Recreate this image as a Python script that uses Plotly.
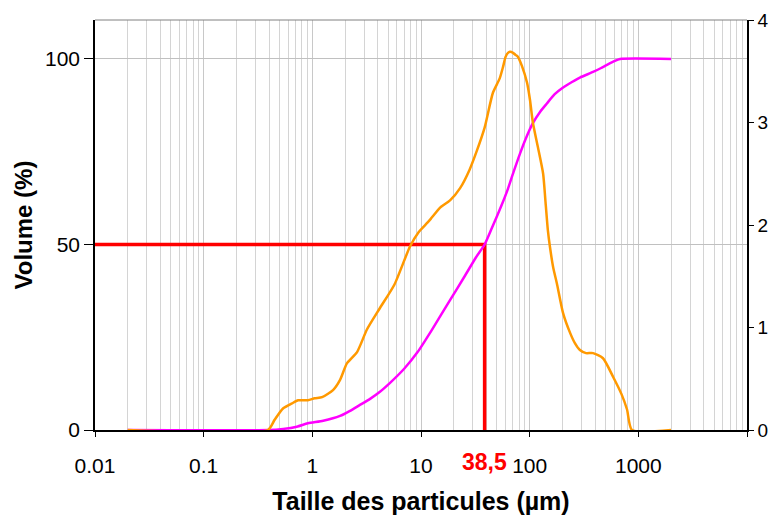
import numpy as np
import plotly.graph_objects as go

# Particle size distribution (frequency, right axis, %)
freq_size = [0.02, 0.39, 0.45, 0.537, 0.65, 0.74, 0.91, 1.05, 1.23, 1.55, 1.8, 2.08, 2.58, 3.18,
             4.19, 5.7, 7.92, 9.5, 11.4, 12.3, 15, 18.5, 22.9, 28, 32.8, 38.5, 45.9, 53,
             56.8, 60, 63.1, 66, 70.3, 74, 78.1, 85, 94.5, 100.7, 107, 119, 133, 140, 147,
             154, 165, 178, 203, 235, 260, 290, 330, 383, 473, 585, 700, 787, 874, 2000]
freq_vol = [0, 0, 0.1, 0.21, 0.26, 0.29, 0.29, 0.31, 0.32, 0.39, 0.49, 0.65, 0.76, 0.98,
            1.19, 1.42, 1.79, 1.93, 2.02, 2.06, 2.17, 2.24, 2.36, 2.54, 2.73, 2.95, 3.29, 3.43,
            3.54, 3.64, 3.68, 3.69, 3.68, 3.66, 3.64, 3.55, 3.39, 3.22, 3.0, 2.76, 2.5, 2.22, 1.95,
            1.78, 1.58, 1.43, 1.14, 0.95, 0.85, 0.78, 0.75, 0.75, 0.70, 0.52, 0.35, 0.2, 0.0, 0.0]

# Cumulative distribution (left axis, %)
cum_size = [0.02, 0.39, 0.54, 0.72, 0.91, 1.26, 1.8, 2.2, 2.72, 3.4, 4.19, 5.19, 7, 9.3,
            12.6, 18.5, 25.3, 32, 38.5, 45, 55, 63.1, 71, 81.5, 92, 107, 125, 144, 170,
            203, 245, 290, 383, 450, 514, 600, 678, 2000]
cum_vol = [0, 0, 0.3, 0.9, 1.8, 2.5, 3.8, 5.1, 6.7, 8.4, 10.3, 12.7, 16.5, 21,
           27, 35, 41.5, 46.5, 50, 54.5, 60.5, 65, 69.5, 74.5, 78.5, 82.7, 85.8, 88, 90.5,
           92.3, 93.8, 95, 96.5, 97.5, 98.4, 99.4, 100, 100]

# D50 marker
d50 = 38.5
d50_label = "38,5"

x_tickvals = [0.01, 0.1, 1, 10, 100, 1000, 10000]
x_ticktext = ["0.01", "0.1", "1", "10", "100", "1000", ""]
minor_vals = [m * 10.0 ** k for k in range(-2, 4) for m in range(2, 10)]

fig = go.Figure()

fig.add_trace(go.Scatter(x=[0.01, d50, d50], y=[50, 50, 0], mode="lines",
                         line=dict(color="#FF0000", width=3.5), yaxis="y",
                         showlegend=False, hoverinfo="skip"))
fig.add_trace(go.Scatter(x=cum_size, y=cum_vol, mode="lines",
                         line=dict(color="#FF00FF", width=2.5, shape="spline", smoothing=0.6),
                         yaxis="y", showlegend=False))
fig.add_trace(go.Scatter(x=freq_size, y=freq_vol, mode="lines",
                         line=dict(color="#FF9900", width=2.5, shape="spline", smoothing=0.6),
                         yaxis="y2", showlegend=False))

font_family = "Liberation Sans, Arial, sans-serif"

# page body has an 8px default margin; figure sized so the page does not overflow the window
fig.update_layout(
    width=763, height=507,
    margin=dict(l=87, r=24, t=12, b=85, autoexpand=False),
    paper_bgcolor="white", plot_bgcolor="white",
    font=dict(family=font_family, color="black", size=21),
    xaxis=dict(
        type="log", range=[-2, 4], automargin=False,
        tickmode="array", tickvals=x_tickvals, ticktext=x_ticktext,
        ticks="outside", ticklen=16, tickcolor="rgba(0,0,0,0)",
        showline=True, linecolor="black", linewidth=1.5,
        showgrid=True, gridcolor="#c8c8c8", gridwidth=1,
        minor=dict(tickmode="array", tickvals=minor_vals, showgrid=True,
                   gridcolor="#d4d4d4", gridwidth=1, ticks=""),
        tickfont=dict(size=21),
        title=dict(text="<b>Taille des particules (µm)</b>", font=dict(size=25), standoff=20),
        zeroline=False, mirror=False,
    ),
    # overlay axis that only draws the short visible major ticks
    xaxis2=dict(
        type="log", range=[-2, 4], overlaying="x", anchor="y", side="bottom",
        automargin=False, tickmode="array", tickvals=x_tickvals,
        ticks="outside", ticklen=6, tickcolor="black", tickwidth=1,
        showticklabels=False, showgrid=False, showline=False, zeroline=False,
    ),
    yaxis=dict(
        range=[0, 110.5], tickvals=[0, 50, 100], automargin=False,
        ticks="outside", ticklen=9, tickcolor="black",
        showline=True, linecolor="black", linewidth=1.5,
        showgrid=True, gridcolor="#c0c0c0", gridwidth=1,
        zeroline=False,
        tickfont=dict(size=21),
        title=dict(text="<b>Volume (%)</b>", font=dict(size=24), standoff=6),
    ),
    yaxis2=dict(
        range=[0, 4], tickvals=[0, 1, 2, 3, 4], overlaying="y", side="right",
        automargin=False,
        ticks="outside", ticklen=5, tickcolor="black",
        showline=True, linecolor="black", linewidth=1.5,
        showgrid=False, zeroline=False,
        tickfont=dict(size=19),
    ),
    shapes=[dict(type="line", xref="paper", yref="paper", x0=0, x1=1, y0=1, y1=1,
                 line=dict(color="#808080", width=1))],
    annotations=[dict(x=np.log10(d50), y=-0.078, xref="x", yref="paper",
                      text="<b>" + d50_label + "</b>", showarrow=False,
                      font=dict(color="#FF0000", size=23), yanchor="middle")],
)

# an invisible trace keeps the overlay tick axis active
fig.add_trace(go.Scatter(x=[0.01, 10000], y=[None, None], xaxis="x2", yaxis="y",
                         mode="lines", showlegend=False, hoverinfo="skip"))

fig.write_html("out.html")
